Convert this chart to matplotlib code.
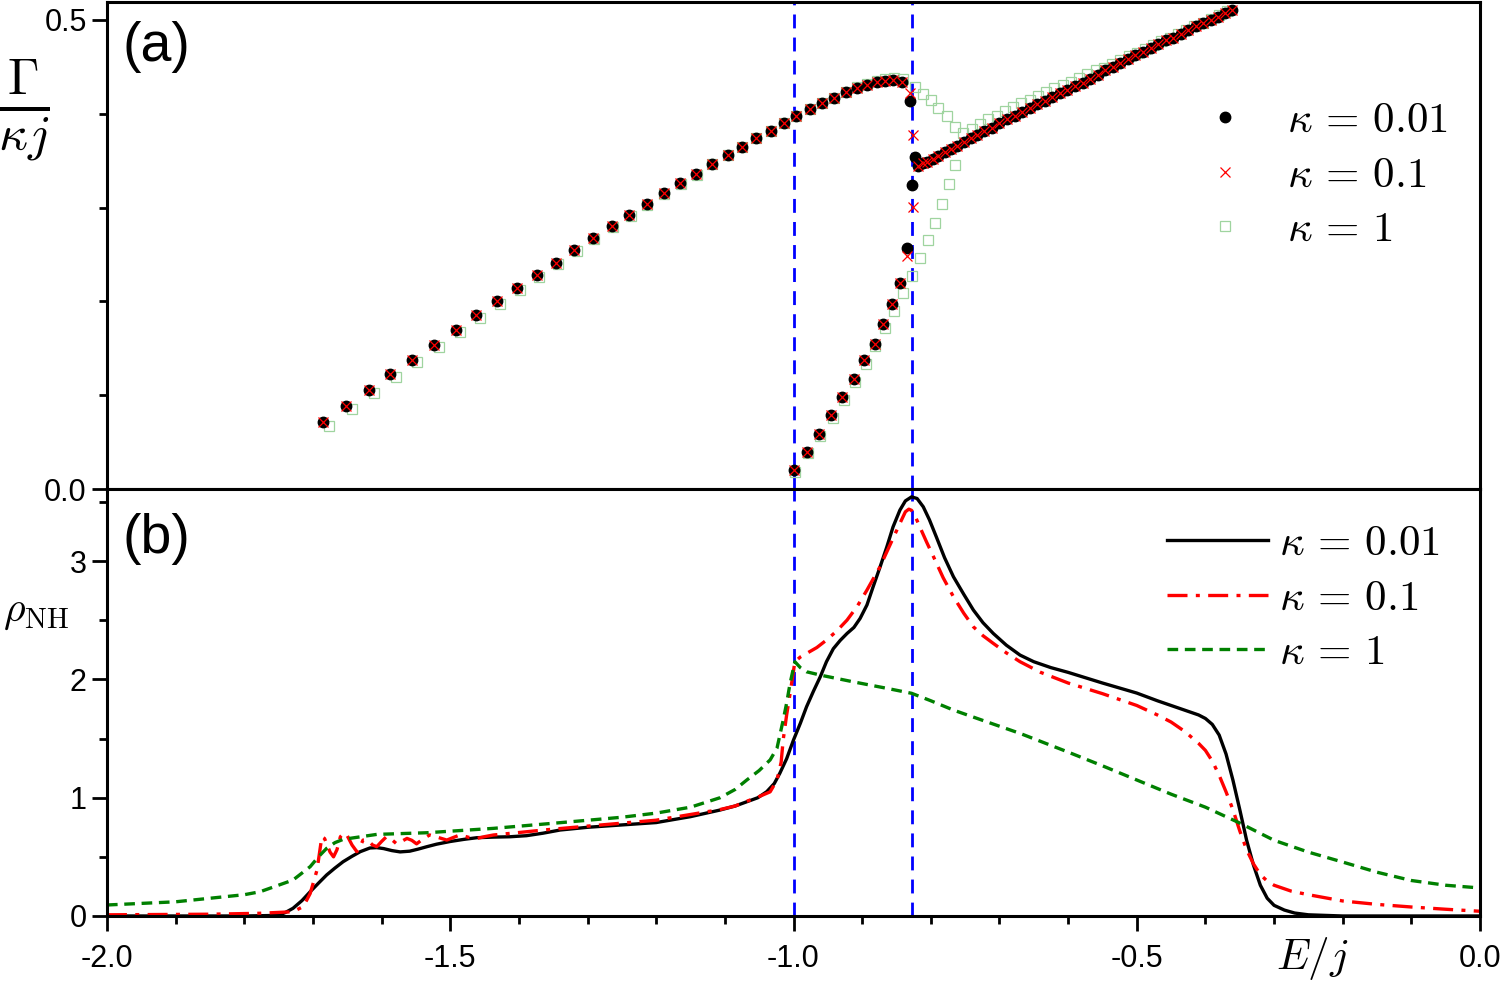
import matplotlib
matplotlib.use("Agg")
import matplotlib.pyplot as plt
from matplotlib.ticker import MultipleLocator, FormatStrFormatter

plt.rcParams['font.family'] = ['Liberation Sans', 'DejaVu Sans']
plt.rcParams['mathtext.fontset'] = 'cm'
plt.rcParams['axes.unicode_minus'] = False

# ---------------- panel (a): Gamma/(kappa j) ----------------
# kappa = 0.01
E_a1 = [-1.686, -1.652, -1.619, -1.587, -1.555, -1.523, -1.492, -1.462, -1.432, -1.403,
        -1.374, -1.346, -1.319, -1.292, -1.265, -1.239, -1.214, -1.189, -1.165, -1.142,
        -1.119, -1.096, -1.075, -1.054, -1.033, -1.014, -0.996, -0.976, -0.958, -0.941,
        -0.924, -0.908, -0.893, -0.879, -0.867, -0.855, -0.842, -0.831,
        -0.823, -0.827, -0.835,
        -1.000, -0.981, -0.963, -0.946, -0.929, -0.912, -0.897, -0.882, -0.869, -0.856, -0.845]
G_a1 = [0.071, 0.089, 0.106, 0.123, 0.138, 0.154, 0.170, 0.185, 0.200, 0.214,
        0.228, 0.241, 0.255, 0.267, 0.280, 0.292, 0.304, 0.315, 0.326, 0.336,
        0.346, 0.356, 0.365, 0.374, 0.382, 0.390, 0.398, 0.405, 0.411, 0.417,
        0.423, 0.427, 0.431, 0.434, 0.435, 0.436, 0.434, 0.413,
        0.354, 0.324, 0.257,
        0.020, 0.040, 0.059, 0.079, 0.098, 0.117, 0.137, 0.155, 0.176, 0.197, 0.220]
# kappa = 0.1
E_a2 = E_a1[:37] + [-0.831, -0.826, -0.826, -0.834] + E_a1[41:]
G_a2 = G_a1[:37] + [0.422, 0.377, 0.301, 0.248] + G_a1[41:]
# shared right branch (both kappa = 0.01 and 0.1)
E_up = [-0.819, -0.812, -0.805, -0.797, -0.789, -0.780, -0.771, -0.762, -0.752, -0.742,
        -0.732, -0.722, -0.711, -0.700, -0.689, -0.678, -0.667, -0.656, -0.645, -0.634,
        -0.623, -0.612, -0.601, -0.590, -0.579, -0.568, -0.557, -0.546, -0.535, -0.524,
        -0.513, -0.502, -0.491, -0.480, -0.469, -0.458, -0.447, -0.436, -0.425, -0.414,
        -0.403, -0.392, -0.382, -0.372, -0.362]
G_up = [0.344, 0.347, 0.349, 0.352, 0.355, 0.359, 0.362, 0.366, 0.370, 0.374,
        0.377, 0.381, 0.385, 0.390, 0.394, 0.398, 0.402, 0.406, 0.410, 0.414,
        0.418, 0.422, 0.425, 0.429, 0.433, 0.437, 0.441, 0.446, 0.450, 0.454,
        0.458, 0.462, 0.466, 0.470, 0.474, 0.478, 0.481, 0.485, 0.489, 0.493,
        0.497, 0.500, 0.503, 0.507, 0.510]
# kappa = 1
E_a3 = [-1.677, -1.643, -1.611, -1.579, -1.548, -1.516, -1.486, -1.456, -1.427, -1.398,
        -1.370, -1.343, -1.316, -1.290, -1.263, -1.237, -1.213, -1.188, -1.164, -1.141,
        -1.118, -1.096, -1.075, -1.054, -1.033, -1.014, -0.996, -0.976, -0.958, -0.941,
        -0.924, -0.908, -0.893, -0.879, -0.866, -0.853, -0.840,
        -0.823, -0.811, -0.800, -0.789, -0.777, -0.765, -0.753,
        -0.740, -0.728, -0.716, -0.704, -0.692, -0.680, -0.668, -0.656, -0.644, -0.632,
        -0.620, -0.608, -0.596, -0.584, -0.572, -0.560, -0.548, -0.536, -0.524, -0.512,
        -0.500, -0.488, -0.476, -0.464, -0.452, -0.440, -0.428, -0.416, -0.404, -0.392,
        -0.380, -0.368,
        -0.998, -0.979, -0.961, -0.943, -0.926, -0.910, -0.895, -0.881, -0.867, -0.854,
        -0.840, -0.828, -0.816, -0.804, -0.794, -0.783, -0.773, -0.765]
G_a3 = [0.067, 0.085, 0.102, 0.119, 0.135, 0.151, 0.167, 0.182, 0.197, 0.212,
        0.226, 0.240, 0.254, 0.266, 0.279, 0.291, 0.303, 0.314, 0.325, 0.335,
        0.346, 0.356, 0.365, 0.374, 0.382, 0.390, 0.398, 0.405, 0.411, 0.417,
        0.423, 0.428, 0.432, 0.435, 0.437, 0.438, 0.437,
        0.428, 0.421, 0.415, 0.406, 0.397, 0.386, 0.379,
        0.384, 0.389, 0.394, 0.398, 0.403, 0.407, 0.411, 0.415, 0.419, 0.423,
        0.427, 0.431, 0.434, 0.438, 0.442, 0.446, 0.449, 0.453, 0.457, 0.461,
        0.465, 0.469, 0.473, 0.477, 0.481, 0.485, 0.489, 0.493, 0.497, 0.501,
        0.505, 0.509,
        0.018, 0.038, 0.057, 0.076, 0.095, 0.114, 0.133, 0.152, 0.172, 0.190,
        0.209, 0.227, 0.246, 0.265, 0.284, 0.304, 0.325, 0.345]

# ---------------- panel (b): rho_NH ----------------
E_b1 = [-2.0, -1.80, -1.75, -1.74, -1.729, -1.716, -1.704, -1.692, -1.68, -1.668,
        -1.656, -1.643, -1.631, -1.617, -1.607, -1.597, -1.585, -1.573, -1.559, -1.547,
        -1.534, -1.52, -1.50, -1.48, -1.461, -1.437, -1.413, -1.389, -1.365, -1.34,
        -1.30, -1.25, -1.20, -1.15, -1.107, -1.085, -1.068, -1.052, -1.039, -1.028,
        -1.02, -1.01, -1.0, -0.99, -0.981, -0.971, -0.961, -0.952, -0.942, -0.932,
        -0.922, -0.912, -0.903, -0.893, -0.884, -0.874, -0.864, -0.855, -0.845, -0.837,
        -0.828, -0.82, -0.811, -0.802, -0.792, -0.78, -0.767, -0.752, -0.738, -0.724,
        -0.709, -0.69, -0.67, -0.65, -0.625, -0.60, -0.55, -0.50, -0.47, -0.45,
        -0.43, -0.42, -0.41, -0.40, -0.39, -0.38, -0.37, -0.36, -0.35, -0.34,
        -0.33, -0.32, -0.31, -0.30, -0.285, -0.27, -0.25, -0.20, 0.0]
R_b1 = [0.0, 0.0, 0.005, 0.03, 0.065, 0.13, 0.205, 0.277, 0.347, 0.405,
        0.459, 0.505, 0.544, 0.575, 0.578, 0.570, 0.553, 0.542, 0.548, 0.565,
        0.586, 0.607, 0.630, 0.648, 0.662, 0.667, 0.670, 0.679, 0.70, 0.727,
        0.75, 0.77, 0.79, 0.84, 0.896, 0.93, 0.966, 1.0, 1.051, 1.12,
        1.206, 1.33, 1.488, 1.63, 1.769, 1.90, 2.023, 2.15, 2.26, 2.33,
        2.389, 2.44, 2.516, 2.63, 2.784, 2.95, 3.122, 3.29, 3.432, 3.51,
        3.544, 3.53, 3.46, 3.35, 3.206, 3.03, 2.868, 2.72, 2.587, 2.48,
        2.389, 2.29, 2.206, 2.15, 2.10, 2.06, 1.97, 1.885, 1.82, 1.78,
        1.74, 1.72, 1.70, 1.67, 1.62, 1.53, 1.37, 1.15, 0.90, 0.64,
        0.43, 0.26, 0.15, 0.09, 0.05, 0.025, 0.01, 0.0, 0.0]

E_b2 = [-2.0, -1.85, -1.777, -1.729, -1.714, -1.704, -1.694, -1.687, -1.683, -1.68,
        -1.675, -1.67, -1.665, -1.66, -1.655, -1.651, -1.643, -1.636, -1.631, -1.627,
        -1.62, -1.613, -1.607, -1.60, -1.593, -1.585, -1.578, -1.571, -1.563, -1.556,
        -1.549, -1.54, -1.53, -1.518, -1.505, -1.495, -1.486, -1.473, -1.461, -1.449,
        -1.437, -1.403, -1.364, -1.30, -1.20, -1.107, -1.085,
        -1.068, -1.05, -1.034, -1.024, -1.018, -1.015, -1.01, -1.005, -0.998, -0.99,
        -0.981, -0.966, -0.952, -0.937, -0.922, -0.907, -0.893, -0.874, -0.864, -0.854,
        -0.845, -0.837, -0.832, -0.828, -0.822, -0.816, -0.806, -0.796, -0.782, -0.767,
        -0.752, -0.738, -0.724, -0.709, -0.69, -0.67, -0.64, -0.60, -0.55, -0.50,
        -0.47, -0.45, -0.43, -0.42, -0.41, -0.40, -0.39, -0.38, -0.37, -0.36,
        -0.35, -0.34, -0.33, -0.32, -0.31, -0.30, -0.275, -0.25, -0.20, -0.15,
        -0.10, -0.05, 0.0]
R_b2 = [0.01, 0.015, 0.023, 0.036, 0.08, 0.19, 0.389, 0.67, 0.655, 0.61,
        0.54, 0.50, 0.56, 0.67, 0.70, 0.69, 0.60, 0.544, 0.59, 0.642,
        0.64, 0.60, 0.586, 0.63, 0.67, 0.645, 0.61, 0.63, 0.656, 0.64,
        0.61, 0.65, 0.685, 0.665, 0.642, 0.665, 0.685, 0.665, 0.656, 0.672,
        0.685, 0.704, 0.727, 0.76, 0.81, 0.90, 0.93,
        0.97, 1.01, 1.05, 1.15, 1.30, 1.49, 1.70, 1.88, 2.15, 2.19,
        2.22, 2.27, 2.333, 2.41, 2.502, 2.62, 2.756, 2.953, 3.08, 3.206,
        3.32, 3.418, 3.44, 3.43, 3.37, 3.29, 3.16, 3.037, 2.86, 2.699,
        2.56, 2.445, 2.37, 2.305, 2.225, 2.15, 2.06, 1.97, 1.88, 1.78,
        1.70, 1.64, 1.56, 1.51, 1.46, 1.40, 1.31, 1.19, 1.05, 0.90,
        0.72, 0.56, 0.44, 0.35, 0.295, 0.26, 0.21, 0.18, 0.127, 0.098,
        0.076, 0.057, 0.04]

E_b3 = [-2.0, -1.9, -1.8, -1.777, -1.729, -1.704, -1.692, -1.68, -1.668, -1.656,
        -1.607, -1.534, -1.437, -1.34, -1.25, -1.20, -1.15, -1.107, -1.085, -1.068,
        -1.05, -1.034, -1.024, -1.015, -1.01, -1.005, -0.998, -0.99, -0.981, -0.961,
        -0.913, -0.864, -0.828, -0.80, -0.767, -0.719, -0.67, -0.60, -0.55, -0.50,
        -0.45, -0.40, -0.35, -0.30, -0.25, -0.20, -0.15, -0.10, -0.05, 0.0]
R_b3 = [0.093, 0.12, 0.18, 0.205, 0.304, 0.417, 0.50, 0.572, 0.62, 0.648,
        0.69, 0.704, 0.741, 0.789, 0.835, 0.87, 0.92, 1.0, 1.07, 1.15,
        1.23, 1.32, 1.42, 1.657, 1.80, 1.967, 2.15, 2.10, 2.065, 2.037,
        1.98, 1.925, 1.883, 1.82, 1.741, 1.643, 1.544, 1.386, 1.27, 1.15,
        1.03, 0.92, 0.786, 0.64, 0.54, 0.456, 0.37, 0.30, 0.26, 0.237]

E_lines = [-1.0, -0.828]
labels = [r'$\kappa\,=\,0.01$', r'$\kappa\,=\,0.1$', r'$\kappa\,=\,1$']

fig = plt.figure(figsize=(15, 9.86), dpi=100)
ax1 = fig.add_axes([0.0713, 0.504, 0.9154, 0.494])
ax2 = fig.add_axes([0.0713, 0.071, 0.9154, 0.433])

ax1.plot(E_a3, G_a3, ls='none', marker='s', ms=7, mfc='none', mec='#9fd49f', mew=0.9, label=labels[2])
ax1.plot(E_a1 + E_up, G_a1 + G_up, ls='none', marker='o', ms=7.5, color='black', label=labels[0])
ax1.plot(E_a2 + E_up, G_a2 + G_up, ls='none', marker='x', ms=7.5, color='red', mew=0.9, label=labels[1])

ax2.plot(E_b1, R_b1, color='black', lw=2.4, label=labels[0])
ax2.plot(E_b2, R_b2, color='red', lw=2.4, ls=(0, (6, 2.5, 1.2, 2.5)), label=labels[1])
ax2.plot(E_b3, R_b3, color='green', lw=2.4, ls=(0, (3.2, 2)), label=labels[2])

for ax in (ax1, ax2):
    for e in E_lines:
        ax.axvline(e, color='blue', lw=2.0, ls=(0, (5, 3.3)), zorder=0.5)
    ax.set_xlim(-2, 0)
    for s in ax.spines.values():
        s.set_linewidth(2.2)
    ax.tick_params(which='major', direction='out', length=11, width=2, labelsize=22)
    ax.tick_params(which='minor', direction='out', length=5.5, width=2)
    ax.xaxis.set_major_locator(MultipleLocator(0.5))
    ax.xaxis.set_minor_locator(MultipleLocator(0.1))

ax1.set_ylim(0, 0.519)
ax1.yaxis.set_major_locator(MultipleLocator(0.5))
ax1.yaxis.set_minor_locator(MultipleLocator(0.1))
ax1.yaxis.set_major_formatter(FormatStrFormatter('%.1f'))
ax1.tick_params(axis='x', which='both', bottom=False, labelbottom=False)

ax2.set_ylim(0, 3.61)
ax2.yaxis.set_major_locator(MultipleLocator(1))
ax2.yaxis.set_minor_locator(MultipleLocator(0.5))
ax2.xaxis.set_major_formatter(FormatStrFormatter('%.1f'))
ax2.tick_params(axis='x', which='major', pad=9)

ax1.text(0.011, 0.96, '(a)', transform=ax1.transAxes, fontsize=40, va='top', ha='left')
ax2.text(0.011, 0.945, '(b)', transform=ax2.transAxes, fontsize=40, va='top', ha='left')

fig.text(0.016, 0.888, r'$\frac{\Gamma}{\kappa j}$', fontsize=52, ha='center', va='center')
fig.text(0.024, 0.379, r'$\rho_{\mathrm{NH}}$', fontsize=30, ha='center', va='center')
fig.text(0.875, 0.028, r'$E/j$', fontsize=31, ha='center', va='center')

h, l = ax1.get_legend_handles_labels()
order = [1, 2, 0]
ax1.legend([h[i] for i in order], [l[i] for i in order], loc='upper left',
           bbox_to_anchor=(1186 / 1500, 1 - 101 / 986), bbox_transform=fig.transFigure,
           frameon=False, fontsize=31, handlelength=1.8, handletextpad=0.55,
           labelspacing=0.34, borderpad=0, borderaxespad=0)
ax2.legend(loc='upper left', bbox_to_anchor=(1167 / 1500, 1 - 524 / 986),
           bbox_transform=fig.transFigure, frameon=False, fontsize=31,
           handlelength=2.35, handletextpad=0.26, labelspacing=0.34,
           borderpad=0, borderaxespad=0)

fig.savefig('out.png', dpi=100)
